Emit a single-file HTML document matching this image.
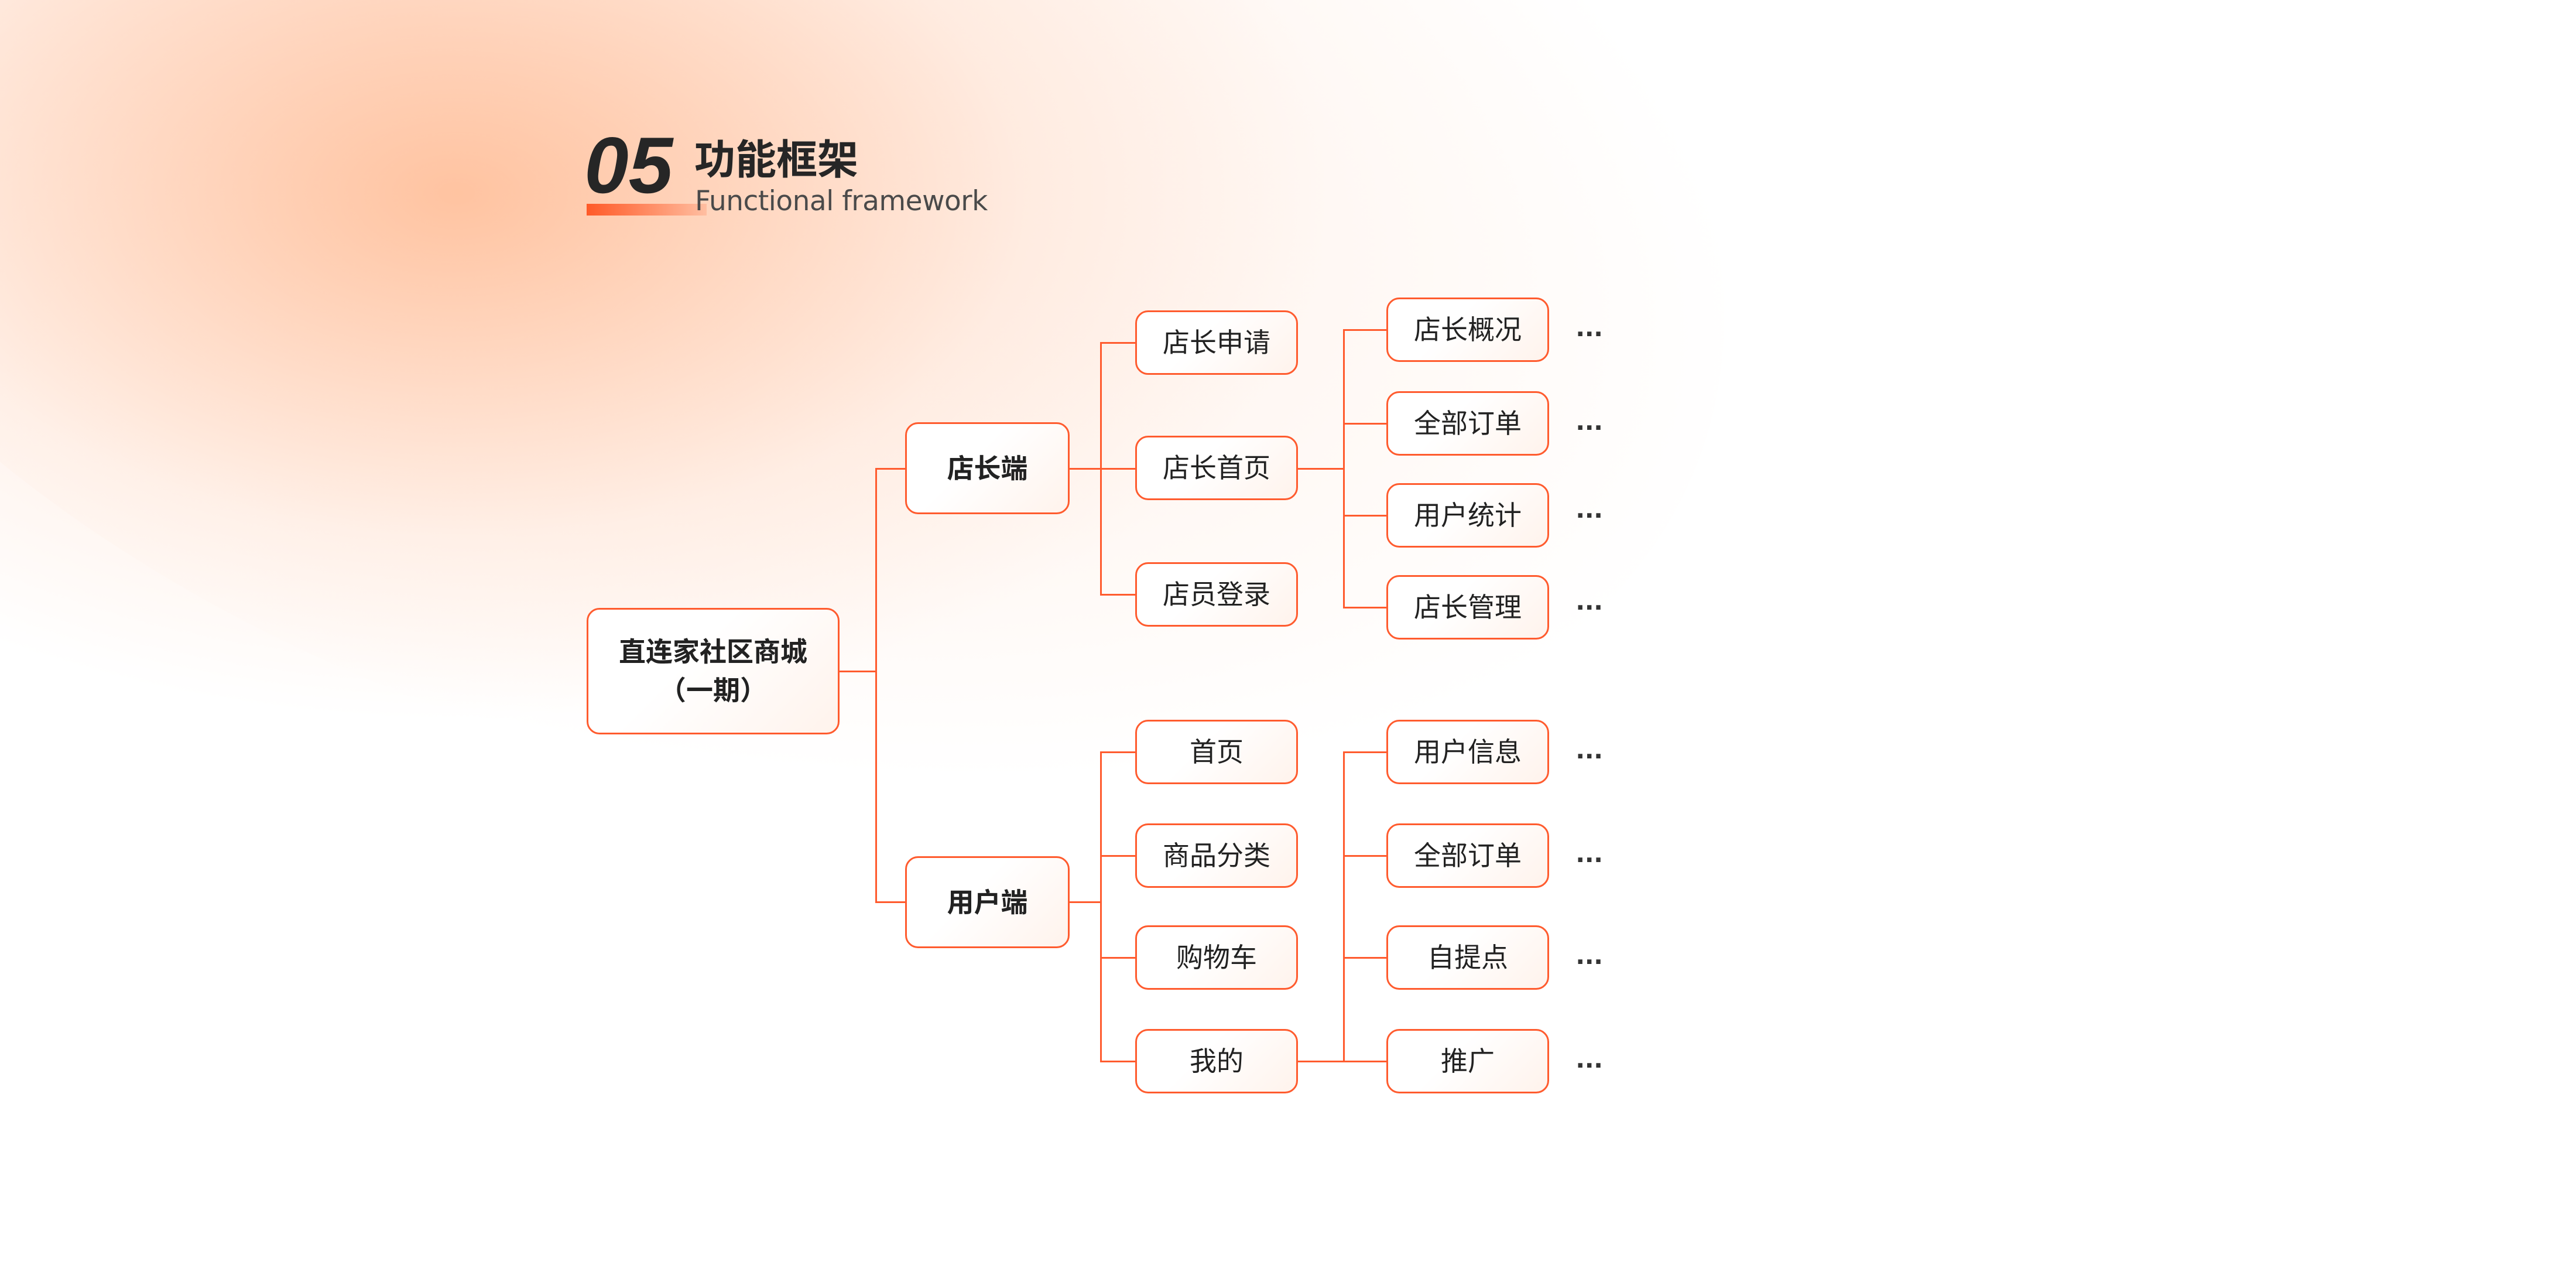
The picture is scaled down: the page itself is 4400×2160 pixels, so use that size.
<!DOCTYPE html>
<html><head><meta charset="utf-8"><style>
html,body{margin:0;padding:0}
body{width:4400px;height:2160px;position:relative;overflow:hidden;background:#fff;font-family:"Liberation Sans","Noto Sans CJK SC",sans-serif}
.bg{position:absolute;left:0;top:0;width:4400px;height:2160px;
background:
radial-gradient(ellipse 1500px 900px at 780px 330px, rgba(255,170,120,0.75) 0%, rgba(255,185,145,0.5) 35%, rgba(255,210,185,0.25) 65%, rgba(255,255,255,0) 100%);}
.bg2{position:absolute;left:-600px;top:-900px;width:3600px;height:2200px;border-radius:50%;
background:radial-gradient(ellipse at 35% 50%, rgba(255,200,170,0.35) 0%, rgba(255,220,200,0.2) 50%, rgba(255,255,255,0) 72%);transform:rotate(18deg)}
.n{position:absolute;box-sizing:border-box;border:3px solid #ff5b2e;border-radius:22px;background:linear-gradient(135deg,#fff 40%,#fff3ec 100%);display:flex;align-items:center;justify-content:center;color:#222;font-size:46px;text-align:center;line-height:66px}
.b{font-weight:bold}
.l{position:absolute;background:#ff5b2e}
.d{position:absolute;font-size:52px;font-weight:bold;color:#333;letter-spacing:1px}
</style></head><body>
<div class="bg"></div><div class="bg2"></div>
<div style="position:absolute;left:1002px;top:348px;width:205px;height:20px;background:linear-gradient(90deg,#ff5a28,rgba(255,140,100,0.3))"></div>
<div style="position:absolute;left:998px;top:212px;font-size:136px;font-weight:bold;font-style:italic;color:#262626;line-height:140px">05</div>
<div style="position:absolute;left:1186px;top:228px;font-size:70px;font-weight:bold;color:#262626;line-height:80px;font-family:'Noto Sans CJK SC',sans-serif">功能框架</div>
<div style="position:absolute;left:1187px;top:316px;font-size:47px;color:#4a4a4a;line-height:56px;font-family:'DejaVu Sans','Liberation Sans',sans-serif;letter-spacing:-0.5px">Functional framework</div>

<!-- connectors -->
<div class="l" style="left:1434px;top:1145px;width:62px;height:3px"></div>
<div class="l" style="left:1495px;top:799px;width:3px;height:743px"></div>
<div class="l" style="left:1495px;top:799px;width:52px;height:3px"></div>
<div class="l" style="left:1495px;top:1539px;width:52px;height:3px"></div>

<div class="l" style="left:1827px;top:799px;width:112px;height:3px"></div>
<div class="l" style="left:1879px;top:584px;width:3px;height:432px"></div>
<div class="l" style="left:1879px;top:584px;width:60px;height:3px"></div>
<div class="l" style="left:1879px;top:1014px;width:60px;height:3px"></div>

<div class="l" style="left:2217px;top:799px;width:78px;height:3px"></div>
<div class="l" style="left:2294px;top:562px;width:3px;height:476px"></div>
<div class="l" style="left:2294px;top:562px;width:74px;height:3px"></div>
<div class="l" style="left:2294px;top:722px;width:74px;height:3px"></div>
<div class="l" style="left:2294px;top:879px;width:74px;height:3px"></div>
<div class="l" style="left:2294px;top:1036px;width:74px;height:3px"></div>

<div class="l" style="left:1827px;top:1539px;width:54px;height:3px"></div>
<div class="l" style="left:1879px;top:1283px;width:3px;height:530px"></div>
<div class="l" style="left:1879px;top:1283px;width:60px;height:3px"></div>
<div class="l" style="left:1879px;top:1460px;width:60px;height:3px"></div>
<div class="l" style="left:1879px;top:1634px;width:60px;height:3px"></div>
<div class="l" style="left:1879px;top:1811px;width:60px;height:3px"></div>

<div class="l" style="left:2217px;top:1811px;width:78px;height:3px"></div>
<div class="l" style="left:2294px;top:1283px;width:3px;height:530px"></div>
<div class="l" style="left:2294px;top:1283px;width:74px;height:3px"></div>
<div class="l" style="left:2294px;top:1460px;width:74px;height:3px"></div>
<div class="l" style="left:2294px;top:1634px;width:74px;height:3px"></div>
<div class="l" style="left:2294px;top:1811px;width:74px;height:3px"></div>

<!-- nodes -->
<div class="n b" style="left:1002px;top:1038px;width:432px;height:216px">直连家社区商城<br>（一期）</div>
<div class="n b" style="left:1546px;top:721px;width:281px;height:157px">店长端</div>
<div class="n b" style="left:1546px;top:1462px;width:281px;height:157px">用户端</div>

<div class="n" style="left:1939px;top:530px;width:278px;height:110px">店长申请</div>
<div class="n" style="left:1939px;top:744px;width:278px;height:110px">店长首页</div>
<div class="n" style="left:1939px;top:960px;width:278px;height:110px">店员登录</div>
<div class="n" style="left:1939px;top:1229px;width:278px;height:110px">首页</div>
<div class="n" style="left:1939px;top:1406px;width:278px;height:110px">商品分类</div>
<div class="n" style="left:1939px;top:1580px;width:278px;height:110px">购物车</div>
<div class="n" style="left:1939px;top:1757px;width:278px;height:110px">我的</div>

<div class="n" style="left:2368px;top:508px;width:278px;height:110px">店长概况</div>
<div class="n" style="left:2368px;top:668px;width:278px;height:110px">全部订单</div>
<div class="n" style="left:2368px;top:825px;width:278px;height:110px">用户统计</div>
<div class="n" style="left:2368px;top:982px;width:278px;height:110px">店长管理</div>
<div class="n" style="left:2368px;top:1229px;width:278px;height:110px">用户信息</div>
<div class="n" style="left:2368px;top:1406px;width:278px;height:110px">全部订单</div>
<div class="n" style="left:2368px;top:1580px;width:278px;height:110px">自提点</div>
<div class="n" style="left:2368px;top:1757px;width:278px;height:110px">推广</div>

<div class="d" style="left:2692px;top:527px">...</div>
<div class="d" style="left:2692px;top:687px">...</div>
<div class="d" style="left:2692px;top:837px">...</div>
<div class="d" style="left:2692px;top:994px">...</div>
<div class="d" style="left:2692px;top:1248px">...</div>
<div class="d" style="left:2692px;top:1425px">...</div>
<div class="d" style="left:2692px;top:1599px">...</div>
<div class="d" style="left:2692px;top:1776px">...</div>
</body></html>
